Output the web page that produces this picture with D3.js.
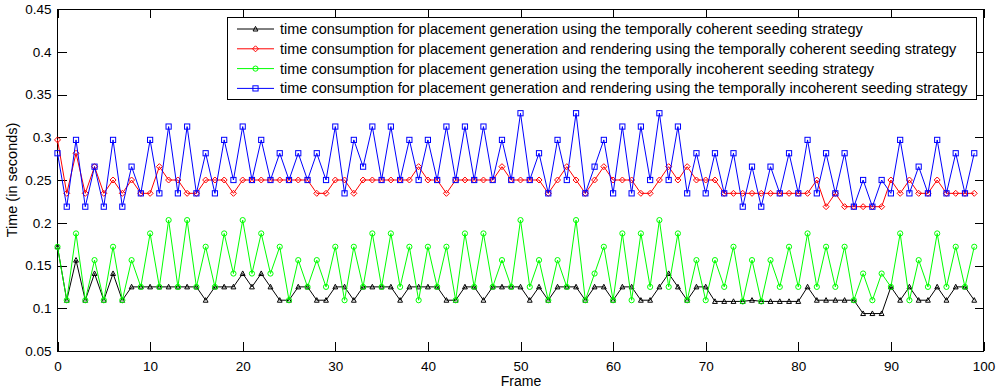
<!DOCTYPE html>
<html>
<head>
<meta charset="utf-8">
<script src="https://cdnjs.cloudflare.com/ajax/libs/d3/7.8.5/d3.min.js"></script>
<style>
  body { margin: 0; background: #fff; }
  svg { font-family: "Liberation Sans", Arial, sans-serif; }
</style>
</head>
<body>
<div id="vis"></div>
<script>
// frame size and plot box
const FRAME_WIDTH = 998;
const FRAME_HEIGHT = 391;
const MARGINS = {left: 57.5, right: 14.5, top: 9, bottom: 40};
const VIS_WIDTH = FRAME_WIDTH - MARGINS.left - MARGINS.right;
const VIS_HEIGHT = FRAME_HEIGHT - MARGINS.top - MARGINS.bottom;

// tick values / labels
const xTicks = [0, 10, 20, 30, 40, 50, 60, 70, 80, 90, 100];
const yTicks = [0.05, 0.1, 0.15, 0.2, 0.25, 0.3, 0.35, 0.4, 0.45];
const yTickLabels = ["0.05", "0.1", "0.15", "0.2", "0.25", "0.3", "0.35", "0.4", "0.45"];

// series values, frames 0..99 (seconds)
const coherentGen = [
  0.1719, 0.1094, 0.1563, 0.1094, 0.1406, 0.1094, 0.1406, 0.1094, 0.125, 0.125,
  0.125, 0.125, 0.125, 0.125, 0.125, 0.125, 0.1094, 0.125, 0.125, 0.125,
  0.1406, 0.125, 0.1406, 0.125, 0.1094, 0.1094, 0.125, 0.125, 0.1094, 0.1094,
  0.125, 0.125, 0.1094, 0.125, 0.125, 0.125, 0.125, 0.1094, 0.125, 0.125,
  0.125, 0.125, 0.1094, 0.1094, 0.125, 0.125, 0.1094, 0.125, 0.125, 0.125,
  0.125, 0.1094, 0.125, 0.1094, 0.125, 0.125, 0.125, 0.1094, 0.125, 0.125,
  0.1094, 0.125, 0.125, 0.1094, 0.1094, 0.125, 0.1406, 0.125, 0.1094, 0.125,
  0.125, 0.108, 0.108, 0.108, 0.108, 0.1094, 0.108, 0.108, 0.108, 0.108,
  0.108, 0.125, 0.1094, 0.1094, 0.1094, 0.1094, 0.1094, 0.0938, 0.0938, 0.0938,
  0.125, 0.1094, 0.125, 0.1094, 0.1094, 0.125, 0.1094, 0.125, 0.125, 0.1094
];
const coherentRender = [
  0.2969, 0.2344, 0.2813, 0.2344, 0.2656, 0.2344, 0.25, 0.2344, 0.25, 0.2344,
  0.2344, 0.2656, 0.25, 0.25, 0.2344, 0.2344, 0.25, 0.25, 0.25, 0.2344,
  0.25, 0.25, 0.25, 0.25, 0.25, 0.25, 0.25, 0.25, 0.2344, 0.2344,
  0.25, 0.25, 0.2344, 0.25, 0.25, 0.25, 0.25, 0.25, 0.25, 0.2656,
  0.25, 0.25, 0.2344, 0.25, 0.25, 0.25, 0.25, 0.25, 0.2656, 0.25,
  0.25, 0.25, 0.25, 0.2344, 0.25, 0.2656, 0.25, 0.2344, 0.25, 0.2656,
  0.25, 0.25, 0.25, 0.2344, 0.2344, 0.25, 0.2656, 0.25, 0.2656, 0.25,
  0.25, 0.25, 0.2344, 0.2344, 0.2344, 0.2344, 0.2344, 0.2344, 0.2344, 0.2344,
  0.2344, 0.2344, 0.25, 0.2188, 0.2344, 0.2188, 0.2188, 0.2188, 0.2188, 0.2188,
  0.25, 0.2344, 0.25, 0.2344, 0.2344, 0.25, 0.2344, 0.2344, 0.2344, 0.2344
];
const incoherentGen = [
  0.1719, 0.1094, 0.1875, 0.1094, 0.1563, 0.1094, 0.1719, 0.1094, 0.1563, 0.125,
  0.1875, 0.125, 0.2031, 0.125, 0.2031, 0.125, 0.1719, 0.125, 0.1875, 0.1406,
  0.2031, 0.1406, 0.1875, 0.1406, 0.1719, 0.1094, 0.1563, 0.125, 0.1563, 0.125,
  0.1719, 0.1094, 0.1719, 0.125, 0.1875, 0.125, 0.1875, 0.125, 0.1719, 0.1094,
  0.1719, 0.125, 0.1719, 0.1094, 0.1875, 0.125, 0.1875, 0.125, 0.1563, 0.125,
  0.2031, 0.125, 0.1563, 0.1094, 0.1563, 0.125, 0.2031, 0.1094, 0.1406, 0.1719,
  0.1094, 0.1875, 0.1094, 0.1875, 0.125, 0.2031, 0.125, 0.1875, 0.1094, 0.1563,
  0.1094, 0.1563, 0.125, 0.1719, 0.108, 0.1563, 0.108, 0.1563, 0.125, 0.1719,
  0.125, 0.1875, 0.125, 0.1719, 0.125, 0.1719, 0.1094, 0.1406, 0.1094, 0.1406,
  0.125, 0.1875, 0.1094, 0.1563, 0.125, 0.1875, 0.125, 0.1719, 0.125, 0.1719
];
const incoherentRender = [
  0.2813, 0.2188, 0.2969, 0.2188, 0.2656, 0.2188, 0.2969, 0.2188, 0.2656, 0.2344,
  0.2969, 0.2344, 0.3125, 0.2344, 0.3125, 0.2344, 0.2813, 0.2344, 0.2969, 0.25,
  0.3125, 0.25, 0.2969, 0.25, 0.2813, 0.25, 0.2813, 0.25, 0.2813, 0.25,
  0.3125, 0.2344, 0.2969, 0.2656, 0.3125, 0.25, 0.3125, 0.25, 0.2969, 0.25,
  0.2969, 0.25, 0.3125, 0.25, 0.3125, 0.25, 0.3125, 0.25, 0.2969, 0.25,
  0.3281, 0.25, 0.2813, 0.2344, 0.2969, 0.25, 0.3281, 0.2344, 0.2656, 0.2969,
  0.2344, 0.3125, 0.2344, 0.3125, 0.25, 0.3281, 0.25, 0.3125, 0.2344, 0.2813,
  0.2344, 0.2813, 0.2344, 0.2813, 0.2188, 0.2656, 0.2188, 0.2656, 0.2344, 0.2813,
  0.2344, 0.2969, 0.2344, 0.2813, 0.2344, 0.2813, 0.2188, 0.25, 0.2188, 0.25,
  0.2344, 0.2969, 0.2344, 0.2656, 0.2344, 0.2969, 0.2344, 0.2813, 0.2344, 0.2813
];

const seriesNames = [
  "time consumption for placement generation using the temporally coherent seeding strategy",
  "time consumption for placement generation and rendering using the temporally coherent seeding strategy",
  "time consumption for placement generation using the temporally incoherent seeding strategy",
  "time consumption for placement generation and rendering using the temporally incoherent seeding strategy"
];
const seriesColors = ["#000000", "#ff0000", "#00ff00", "#0000ff"];
const seriesMarkers = ["triangle", "diamond", "circle", "square"];
const seriesValues = [coherentGen, coherentRender, incoherentGen, incoherentRender];

const FRAME = d3.select("#vis")
  .append("svg")
    .attr("width", FRAME_WIDTH)
    .attr("height", FRAME_HEIGHT);

const X_SCALE = d3.scaleLinear().domain([0, 100]).range([0, VIS_WIDTH]);
const Y_SCALE = d3.scaleLinear().domain([0.05, 0.45]).range([VIS_HEIGHT, 0]);

const plot = FRAME.append("g")
  .attr("transform", `translate(${MARGINS.left},${MARGINS.top})`);

// axes, ticks pointing inward like matlab
const TICK = 9;
plot.append("g")
  .attr("transform", `translate(0,${VIS_HEIGHT})`)
  .call(d3.axisBottom(X_SCALE).tickValues(xTicks).tickSizeInner(-TICK).tickSizeOuter(0).tickPadding(10));
plot.append("g")
  .call(d3.axisTop(X_SCALE).tickValues(xTicks).tickSizeInner(-TICK).tickSizeOuter(0).tickFormat(""));
plot.append("g")
  .call(d3.axisLeft(Y_SCALE).tickValues(yTicks).tickSizeInner(-TICK).tickSizeOuter(0).tickPadding(6)
    .tickFormat((d, i) => yTickLabels[i]));
plot.append("g")
  .attr("transform", `translate(${VIS_WIDTH},0)`)
  .call(d3.axisRight(Y_SCALE).tickValues(yTicks).tickSizeInner(-TICK).tickSizeOuter(0).tickFormat(""));

plot.selectAll(".domain").remove();
plot.selectAll(".tick line").attr("stroke", "#000").attr("shape-rendering", "crispEdges");
plot.selectAll(".tick text").attr("font-size", 13.5).attr("fill", "#000")
  .attr("font-family", "'Liberation Sans', Arial, sans-serif");

plot.append("rect")
  .attr("width", VIS_WIDTH).attr("height", VIS_HEIGHT)
  .attr("fill", "none").attr("stroke", "#000").attr("shape-rendering", "crispEdges");

// marker shapes
function marker(g, type, color) {
  if (type === "circle") {
    g.append("circle").attr("r", 2.6);
  } else if (type === "square") {
    g.append("rect").attr("x", -2.6).attr("y", -2.6).attr("width", 5.2).attr("height", 5.2);
  } else if (type === "diamond") {
    g.append("path").attr("d", "M0,-3L3,0L0,3L-3,0Z");
  } else {
    g.append("path").attr("d", "M0,-2.6L2.4,2L-2.4,2Z");
  }
  g.selectAll("*").attr("fill", "none").attr("stroke", color).attr("stroke-width", 1);
}

const line = d3.line()
  .x((d, i) => X_SCALE(i))
  .y((d) => Y_SCALE(d));

seriesValues.forEach((vals, s) => {
  const g = plot.append("g");
  g.append("path")
    .datum(vals)
    .attr("d", line)
    .attr("fill", "none")
    .attr("stroke", seriesColors[s])
    .attr("stroke-width", 1);
  g.selectAll(".pt")
    .data(vals)
    .enter()
    .append("g")
      .attr("transform", (d, i) => `translate(${X_SCALE(i)},${Y_SCALE(d)})`)
      .each(function() { marker(d3.select(this), seriesMarkers[s], seriesColors[s]); });
});

// legend
const legend = FRAME.append("g");
legend.append("rect")
  .attr("x", 227.5).attr("y", 17.5).attr("width", 749).attr("height", 81.5)
  .attr("fill", "#fff").attr("stroke", "#000").attr("shape-rendering", "crispEdges");
seriesNames.forEach((name, s) => {
  const cy = 29 + s * 19.8;
  legend.append("line")
    .attr("x1", 237).attr("x2", 274).attr("y1", cy).attr("y2", cy)
    .attr("stroke", seriesColors[s]);
  const m = legend.append("g").attr("transform", `translate(255.5,${cy})`);
  marker(m, seriesMarkers[s], seriesColors[s]);
  legend.append("text")
    .attr("x", 280).attr("y", cy).attr("dy", "0.35em")
    .attr("font-size", 14.5).attr("fill", "#000")
    .text(name);
});

// axis labels
FRAME.append("text")
  .attr("x", 521).attr("y", 386)
  .attr("text-anchor", "middle").attr("font-size", 14).attr("fill", "#000")
  .text("Frame");
FRAME.append("text")
  .attr("transform", `translate(17,${MARGINS.top + VIS_HEIGHT / 2}) rotate(-90)`)
  .attr("text-anchor", "middle").attr("font-size", 14.5).attr("fill", "#000")
  .text("Time (in seconds)");
</script>
</body>
</html>
